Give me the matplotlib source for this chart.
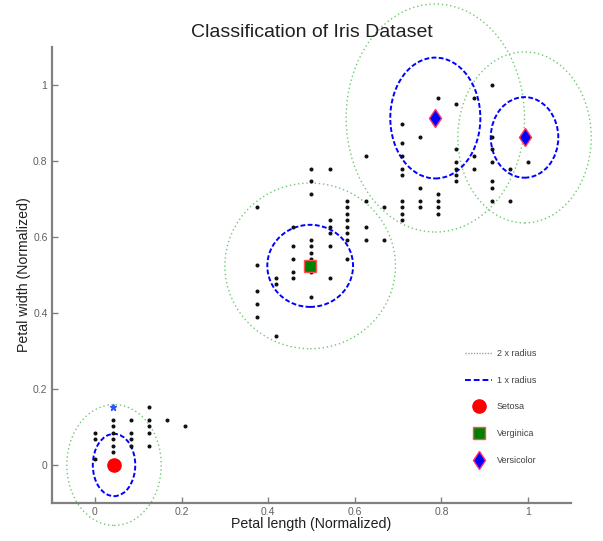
import matplotlib
matplotlib.use("Agg")
import matplotlib.pyplot as plt
from matplotlib.patches import Ellipse
from matplotlib.lines import Line2D

plt.rcParams["font.family"] = ["Liberation Sans", "DejaVu Sans"]

# sample points (normalized)
pts_x = [0.0, 0.0, 0.0,
         0.042, 0.042, 0.042, 0.042, 0.042, 0.042,
         0.083, 0.083, 0.083, 0.083,
         0.125, 0.125, 0.125, 0.125, 0.125,
         0.167, 0.208,
         0.375, 0.375, 0.375, 0.375, 0.375,
         0.417, 0.417, 0.417,
         0.458, 0.458, 0.458, 0.458, 0.458,
         0.5, 0.5, 0.5, 0.5, 0.5, 0.5, 0.5, 0.5, 0.5,
         0.542, 0.542, 0.542, 0.542, 0.542, 0.542,
         0.583, 0.583, 0.583, 0.583, 0.583, 0.583, 0.583, 0.583,
         0.625, 0.625, 0.625, 0.625,
         0.667, 0.667,
         0.708, 0.708, 0.708, 0.708, 0.708, 0.708, 0.708, 0.708, 0.708,
         0.75, 0.75, 0.75, 0.75,
         0.792, 0.792, 0.792, 0.792, 0.792,
         0.833, 0.833, 0.833, 0.833, 0.833, 0.833,
         0.875, 0.875, 0.875,
         0.917, 0.917, 0.917, 0.917, 0.917, 0.917, 0.917,
         0.958, 0.958,
         1.0]
pts_y = [0.017, 0.068, 0.085,
         0.034, 0.051, 0.068, 0.085, 0.102, 0.119,
         0.051, 0.068, 0.085, 0.119,
         0.051, 0.085, 0.102, 0.119, 0.153,
         0.119, 0.102,
         0.390, 0.424, 0.458, 0.525, 0.678,
         0.339, 0.475, 0.492,
         0.492, 0.508, 0.542, 0.576, 0.627,
         0.441, 0.508, 0.542, 0.559, 0.576, 0.593, 0.712, 0.746, 0.780,
         0.492, 0.576, 0.610, 0.627, 0.644, 0.780,
         0.542, 0.593, 0.610, 0.627, 0.644, 0.661, 0.678, 0.695,
         0.593, 0.627, 0.695, 0.814,
         0.593, 0.678,
         0.644, 0.661, 0.678, 0.695, 0.763, 0.780, 0.814, 0.847, 0.898,
         0.678, 0.695, 0.729, 0.864,
         0.661, 0.678, 0.695, 0.712, 0.966,
         0.746, 0.763, 0.780, 0.797, 0.831, 0.949,
         0.780, 0.814, 0.966,
         0.695, 0.729, 0.746, 0.797, 0.831, 0.864, 1.0,
         0.695, 0.780,
         0.797]

# odd point drawn as a blue star
star_x = [0.042]
star_y = [0.153]

# cluster centres and radii
names = ["Setosa", "Verginica", "Versicolor", "Versicolor"]
center_x = [0.044, 0.497, 0.786, 0.992]
center_y = [0.0, 0.524, 0.913, 0.862]
inner_rx = [0.049, 0.099, 0.104, 0.078]
inner_ry = [0.082, 0.108, 0.159, 0.106]
outer_rx = [0.109, 0.197, 0.206, 0.154]
outer_ry = [0.159, 0.218, 0.300, 0.225]

ticks = [0, 0.2, 0.4, 0.6, 0.8, 1]
tick_labels = ["0", "0.2", "0.4", "0.6", "0.8", "1"]

fig = plt.figure(figsize=(6.03, 5.41), dpi=100)
ax = fig.add_axes([0.0857, 0.0702, 0.8617, 0.843])

green = "#70c870"
for cx, cy, rx, ry in zip(center_x, center_y, outer_rx, outer_ry):
    ax.add_patch(Ellipse((cx, cy), 2 * rx, 2 * ry, fill=False, ec=green,
                         ls=(0, (1, 2)), lw=1.0, clip_on=False))
for cx, cy, rx, ry in zip(center_x, center_y, inner_rx, inner_ry):
    ax.add_patch(Ellipse((cx, cy), 2 * rx, 2 * ry, fill=False, ec="blue",
                         ls=(0, (2.5, 1.2)), lw=1.4, clip_on=False))

ax.plot(pts_x, pts_y, "o", color="#111111", ms=1.9, ls="none")
ax.plot(star_x, star_y, "*", color="#3050ff", ms=5, ls="none")

ax.plot(center_x[0], center_y[0], "o", mfc="red", mec="red", ms=9.5)
ax.plot(center_x[1], center_y[1], "s", mfc="green", mec="#ff5050", ms=8.5, mew=1)
ax.plot(center_x[2:], center_y[2:], "d", mfc="blue", mec="#ff3060", ms=9.5, mew=1, ls="none")

ax.set_xlim(-0.1, 1.1)
ax.set_ylim(-0.1, 1.1)
ax.set_xticks(ticks)
ax.set_xticklabels(tick_labels)
ax.set_yticks(ticks)
ax.set_yticklabels(tick_labels)
for s in ["top", "right"]:
    ax.spines[s].set_visible(False)
for s in ["left", "bottom"]:
    ax.spines[s].set_color("#808080")
    ax.spines[s].set_linewidth(1.6)
ax.tick_params(direction="in", length=4, width=1, colors="#808080",
               labelsize=7.5, labelcolor="#606060", pad=3)

ax.set_title("Classification of Iris Dataset", fontsize=14, color="#202020", pad=7)
ax.set_xlabel("Petal length (Normalized)", fontsize=10.2, color="#202020", labelpad=0)
ax.set_ylabel("Petal width (Normalized)", fontsize=10.2, color="#202020")
ax.yaxis.set_label_coords(-0.039, 0.5)

handles = [
    Line2D([], [], color="#a0a0a0", ls=(0, (1, 1)), lw=1),
    Line2D([], [], color="blue", ls=(0, (3, 1.5)), lw=1.4),
    Line2D([], [], marker="o", color="red", ls="none", ms=9.5),
    Line2D([], [], marker="s", mfc="green", mec="#ff5050", ls="none", ms=8.5),
    Line2D([], [], marker="d", mfc="blue", mec="#ff3060", ls="none", ms=9.5),
]
labels = ["2 x radius", "1 x radius", "Setosa", "Verginica", "Versicolor"]
ax.legend(handles, labels, frameon=False, fontsize=6.5, handlelength=3.0,
          handletextpad=0.5, labelspacing=1.95, loc="upper left",
          bbox_to_anchor=(0.78, 0.355), labelcolor="#404040")

fig.savefig("out.png", dpi=100)
